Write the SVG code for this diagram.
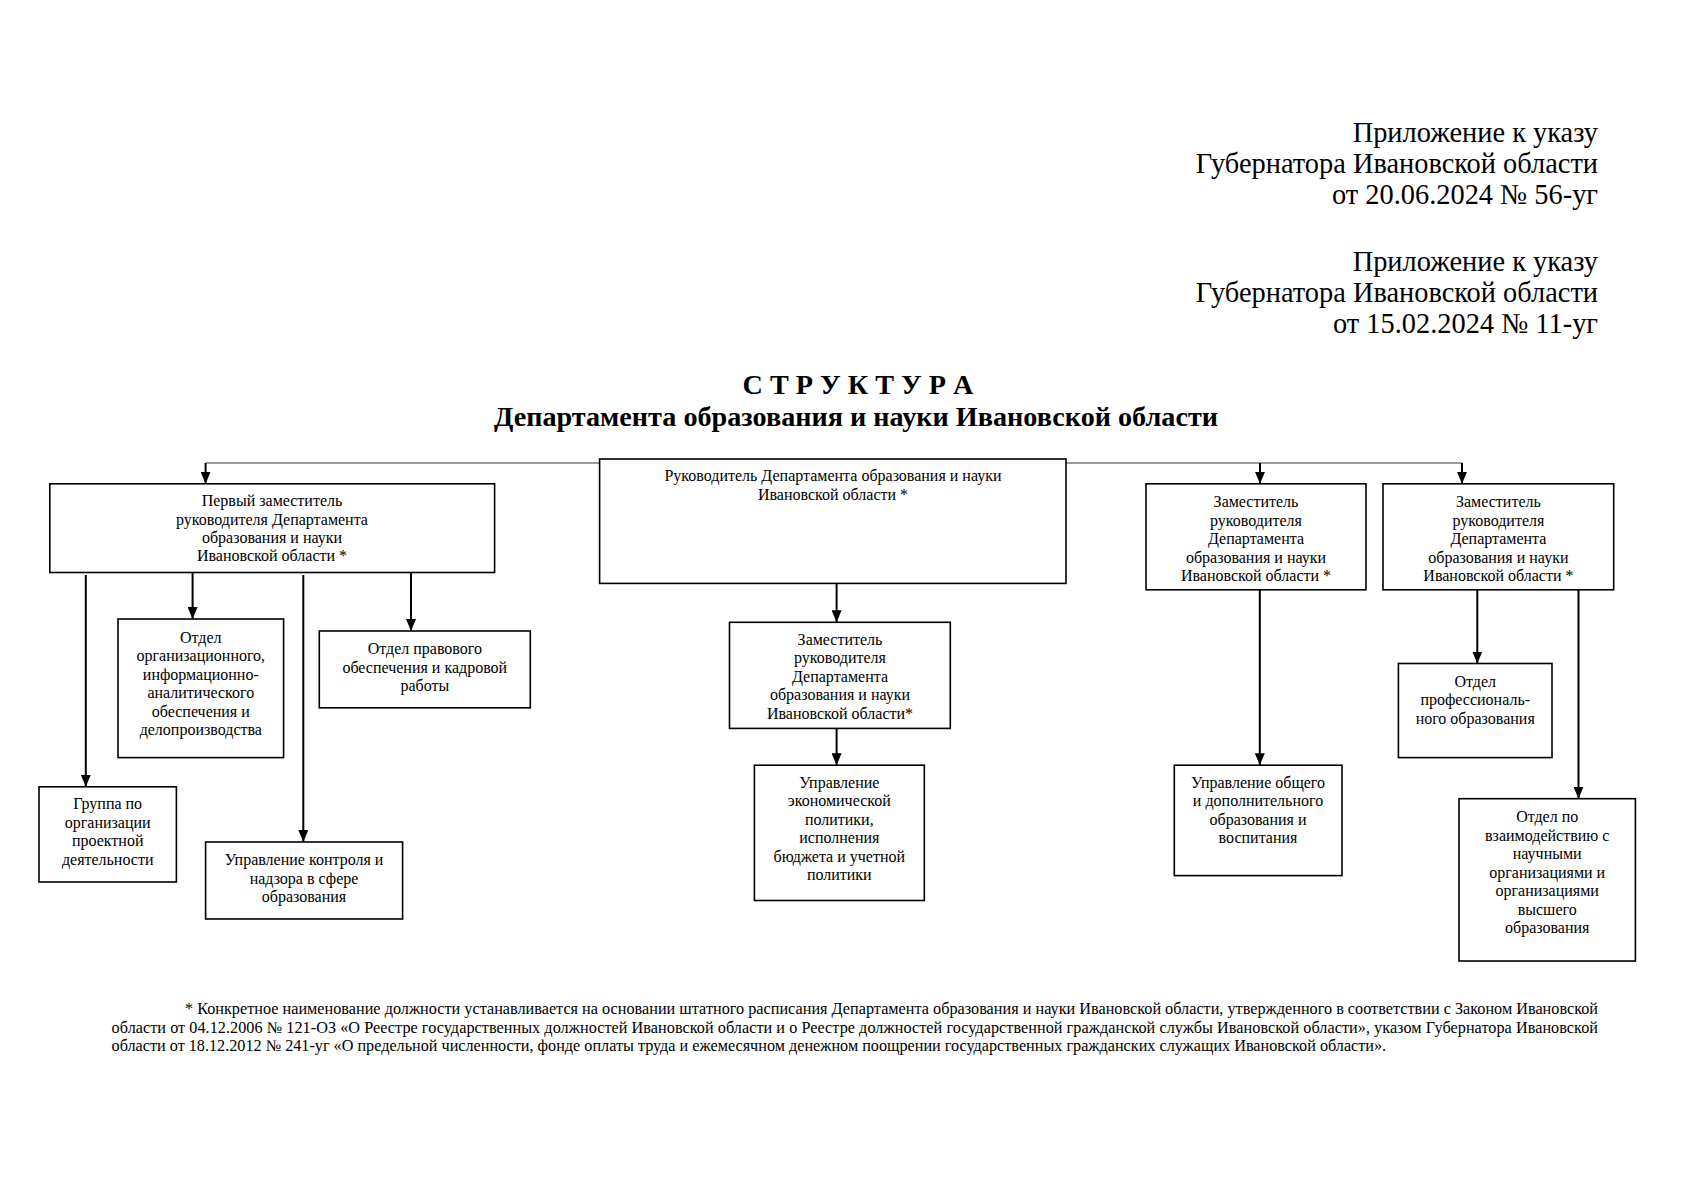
<svg xmlns="http://www.w3.org/2000/svg" width="1697" height="1200" viewBox="0 0 1697 1200">
<style>
.bg{fill:#ffffff}
.box{fill:#ffffff;stroke:#000000;stroke-width:1.6}
.t{font-family:"Liberation Serif","Times New Roman",serif;font-size:16px;fill:#000000;text-anchor:middle}
.hdr{font-family:"Liberation Serif","Times New Roman",serif;font-size:28.4px;fill:#000000;text-anchor:end}
.ttl{font-family:"Liberation Serif","Times New Roman",serif;font-size:28.2px;font-weight:bold;fill:#000000;text-anchor:middle}
.fn{font-family:"Liberation Serif","Times New Roman",serif;font-size:16.2px;fill:#000000}
.ln{fill:none;stroke:#000000;stroke-width:2}
.ln-a{fill:none;stroke:#000000;stroke-width:2;marker-end:url(#arr)}
.thin{fill:none;stroke:#7a7a7a;stroke-width:1.4}
</style>
<defs>
<marker id="arr" viewBox="0 0 12 10" markerWidth="12" markerHeight="10" refX="12" refY="5" orient="auto" markerUnits="userSpaceOnUse">
<path d="M0,0 L12,5 L0,10 z" fill="#000000"/>
</marker>
</defs>
<rect class="bg" x="0" y="0" width="1697" height="1200"/>

<g id="header">
<text class="hdr" x="1598" y="142">Приложение к указу</text>
<text class="hdr" x="1598" y="173">Губернатора Ивановской области</text>
<text class="hdr" x="1598" y="204">от 20.06.2024 № 56-уг</text>
<text class="hdr" x="1598" y="271">Приложение к указу</text>
<text class="hdr" x="1598" y="302">Губернатора Ивановской области</text>
<text class="hdr" x="1598" y="333">от 15.02.2024 № 11-уг</text>
</g>

<g id="title">
<text class="ttl" x="858" y="394">С Т Р У К Т У Р А</text>
<text class="ttl" x="856" y="426">Департамента образования и науки Ивановской области</text>
</g>

<g id="connectors">
<path class="thin" d="M205.6,463 H599.6"/>
<path class="thin" d="M1066,463 H1462"/>
<path class="ln-a" d="M205.6,463 V483.8"/>
<path class="ln-a" d="M1260,463 V483.8"/>
<path class="ln-a" d="M1462,463 V483.8"/>
<path class="ln-a" d="M85.8,575 V786.8"/>
<path class="ln-a" d="M192.6,573 V619"/>
<path class="ln-a" d="M303.3,575 V842"/>
<path class="ln-a" d="M411,573 V631"/>
<path class="ln-a" d="M836.6,584 V622.3"/>
<path class="ln-a" d="M836.6,728.4 V765.2"/>
<path class="ln-a" d="M1259.8,590 V765.2"/>
<path class="ln-a" d="M1477.3,590 V663.5"/>
<path class="ln-a" d="M1578.5,590 V798.7"/>
</g>

<g id="head">
<rect class="box" x="599.6" y="459" width="466.4" height="124.4"/>
<text class="t" x="833" y="481">Руководитель Департамента образования и науки</text>
<text class="t" x="833" y="499.6">Ивановской области *</text>
</g>

<g id="first-deputy">
<rect class="box" x="49.8" y="483.8" width="444.8" height="88.7"/>
<text class="t" x="272" y="506">Первый заместитель</text>
<text class="t" x="272" y="524.5">руководителя Департамента</text>
<text class="t" x="272" y="543">образования и науки</text>
<text class="t" x="272" y="561.3">Ивановской области *</text>
</g>

<g id="deputy-3">
<rect class="box" x="1146" y="483.8" width="220" height="106"/>
<text class="t" x="1256" y="507">Заместитель</text>
<text class="t" x="1256" y="525.5">руководителя</text>
<text class="t" x="1256" y="544">Департамента</text>
<text class="t" x="1256" y="562.5">образования и науки</text>
<text class="t" x="1256" y="581">Ивановской области *</text>
</g>

<g id="deputy-4">
<rect class="box" x="1383" y="483.8" width="230.7" height="106"/>
<text class="t" x="1498.4" y="507">Заместитель</text>
<text class="t" x="1498.4" y="525.5">руководителя</text>
<text class="t" x="1498.4" y="544">Департамента</text>
<text class="t" x="1498.4" y="562.5">образования и науки</text>
<text class="t" x="1498.4" y="581">Ивановской области *</text>
</g>

<g id="org-dept">
<rect class="box" x="118" y="619" width="165.6" height="138.6"/>
<text class="t" x="200.8" y="642.5">Отдел</text>
<text class="t" x="200.8" y="661">организационного,</text>
<text class="t" x="200.8" y="679.5">информационно-</text>
<text class="t" x="200.8" y="698">аналитического</text>
<text class="t" x="200.8" y="716.5">обеспечения и</text>
<text class="t" x="200.8" y="735">делопроизводства</text>
</g>

<g id="legal-dept">
<rect class="box" x="319.3" y="631" width="211" height="76.8"/>
<text class="t" x="424.8" y="654.4">Отдел правового</text>
<text class="t" x="424.8" y="672.8">обеспечения и кадровой</text>
<text class="t" x="424.8" y="691.2">работы</text>
</g>

<g id="project-group">
<rect class="box" x="39" y="786.8" width="137.4" height="95.2"/>
<text class="t" x="107.7" y="809">Группа по</text>
<text class="t" x="107.7" y="827.5">организации</text>
<text class="t" x="107.7" y="846">проектной</text>
<text class="t" x="107.7" y="864.5">деятельности</text>
</g>

<g id="control-dept">
<rect class="box" x="205.6" y="842" width="197" height="77"/>
<text class="t" x="304" y="865.4">Управление контроля и</text>
<text class="t" x="304" y="883.8">надзора в сфере</text>
<text class="t" x="304" y="902.3">образования</text>
</g>

<g id="deputy-2">
<rect class="box" x="729.5" y="622.3" width="220.8" height="106.1"/>
<text class="t" x="840" y="644.6">Заместитель</text>
<text class="t" x="840" y="663">руководителя</text>
<text class="t" x="840" y="681.5">Департамента</text>
<text class="t" x="840" y="700">образования и науки</text>
<text class="t" x="840" y="718.5">Ивановской области*</text>
</g>

<g id="econ-dept">
<rect class="box" x="754.4" y="765.2" width="169.9" height="135.3"/>
<text class="t" x="839.3" y="787.5">Управление</text>
<text class="t" x="839.3" y="806">экономической</text>
<text class="t" x="839.3" y="824.5">политики,</text>
<text class="t" x="839.3" y="843">исполнения</text>
<text class="t" x="839.3" y="861.5">бюджета и учетной</text>
<text class="t" x="839.3" y="880">политики</text>
</g>

<g id="general-dept">
<rect class="box" x="1174.3" y="765.2" width="167.7" height="110.4"/>
<text class="t" x="1258" y="787.5">Управление общего</text>
<text class="t" x="1258" y="806">и дополнительного</text>
<text class="t" x="1258" y="824.5">образования и</text>
<text class="t" x="1258" y="843">воспитания</text>
</g>

<g id="prof-dept">
<rect class="box" x="1398.4" y="663.5" width="153.6" height="94.1"/>
<text class="t" x="1475.2" y="686.8">Отдел</text>
<text class="t" x="1475.2" y="705.2">профессиональ-</text>
<text class="t" x="1475.2" y="723.7">ного образования</text>
</g>

<g id="science-dept">
<rect class="box" x="1459" y="798.7" width="176.4" height="162.3"/>
<text class="t" x="1547.2" y="822">Отдел по</text>
<text class="t" x="1547.2" y="840.5">взаимодействию с</text>
<text class="t" x="1547.2" y="859">научными</text>
<text class="t" x="1547.2" y="877.5">организациями и</text>
<text class="t" x="1547.2" y="896">организациями</text>
<text class="t" x="1547.2" y="914.5">высшего</text>
<text class="t" x="1547.2" y="933">образования</text>
</g>

<g id="footnote">
<text class="fn" x="185" y="1014" textLength="1413" lengthAdjust="spacing">* Конкретное наименование должности устанавливается на основании штатного расписания Департамента образования и науки Ивановской области, утвержденного в соответствии с Законом Ивановской</text>
<text class="fn" x="111.6" y="1032.5" textLength="1486.4" lengthAdjust="spacing">области от 04.12.2006 № 121-ОЗ «О Реестре государственных должностей Ивановской области и о Реестре должностей государственной гражданской службы Ивановской области», указом Губернатора Ивановской</text>
<text class="fn" x="111.6" y="1051">области от 18.12.2012 № 241-уг «О предельной численности, фонде оплаты труда и ежемесячном денежном поощрении государственных гражданских служащих Ивановской области».</text>
</g>
</svg>
